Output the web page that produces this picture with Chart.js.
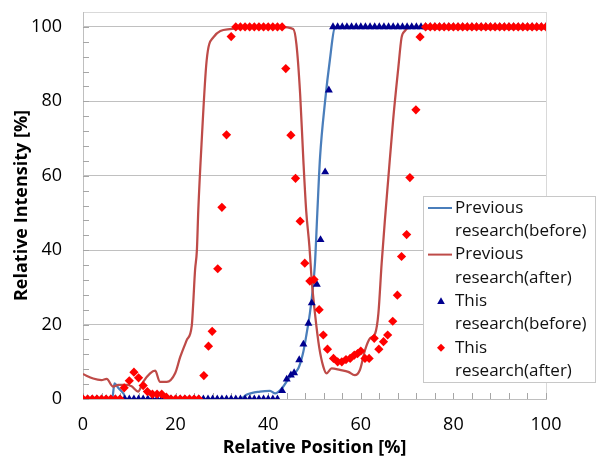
<!DOCTYPE html>
<html>
<head>
<meta charset="utf-8">
<script src="https://cdn.jsdelivr.net/npm/chart.js@4.4.1/dist/chart.umd.min.js"></script>
<style>
  html, body { margin: 0; padding: 0; background: #fff; }
  canvas { display: block; }
</style>
</head>
<body>
<canvas id="chart" width="597" height="457"></canvas>
<script>
// Previous research (before) - smooth blue line
const prevBeforeX = [0, 6.3, 6.8, 7.6, 8.7, 9.5, 34, 35.4, 38.2, 40.4, 41.5, 42.9, 44.7, 46.5, 47.5, 48.3, 49, 49.6, 50.1, 50.6, 51.2, 52.3, 53.3, 54.4, 55.5, 100];
const prevBeforeY = [0, 0, 4.2, 3.0, 1.5, 0, 0, 1.2, 2, 2.2, 1.5, 2.8, 6, 8.2, 12.2, 17.6, 23, 29.2, 36.4, 49.8, 65, 80.2, 90.9, 99.8, 100, 100];

// Previous research (after) - smooth red line
const prevAfterX = [0, 2.2, 4, 5.1, 6.5, 7.6, 9.4, 10.5, 11.9, 13, 14.5, 15.6, 16.6, 18.1, 19.9, 21, 22.4, 23.5, 23.8, 24.2, 24.6, 24.9, 25.6, 26.7, 28.1, 31.7, 42.5, 45.4, 46.1, 46.9, 47.6, 48.2, 48.9, 49.4, 50.1, 51, 51.9, 52.6, 53.7, 55.5, 57.3, 58.7, 59.8, 60.9, 62, 63.1, 63.8, 64.5, 65.2, 65.9, 67, 68.1, 68.8, 69.5, 71, 100];
const prevAfterY = [6.7, 5.5, 5.1, 5.4, 3.3, 3.8, 3.8, 3.4, 2, 4.6, 6.9, 7.6, 4.6, 4.6, 6.9, 11.3, 15.8, 19.8, 25.6, 34.6, 40, 50.7, 68.5, 90.9, 97.1, 99.4, 100, 99.4, 95.3, 81.9, 64, 50.7, 41, 31.9, 23, 14, 8.7, 6.9, 8.2, 7.8, 7.3, 6.4, 7.8, 13.1, 16.3, 17.6, 23, 36.4, 48, 58.7, 75.2, 89, 97.1, 98.9, 100, 100];

// This research (before) - blue triangles
const thisBeforeX = [0, 1, 2, 3, 4, 5, 6, 7, 8, 9, 10, 11, 12, 13, 14, 15, 16, 17, 18, 19, 20, 21, 22, 23, 24, 25, 26, 27, 28, 29, 30, 31, 32, 33, 34, 35, 36, 37, 38, 39, 40, 41, 42,
  43, 44, 44.9, 45.6, 46.7, 47.6, 48.7, 49.4, 50.5, 51.3, 52.3, 53.1,
  54, 55, 56, 57, 58, 59, 60, 61, 62, 63, 64, 65, 66, 67, 68, 69, 70, 71, 72, 73, 74, 75, 76, 77, 78, 79, 80, 81, 82, 83, 84, 85, 86, 87, 88, 89, 90, 91, 92, 93, 94, 95, 96, 97, 98, 99, 100];
const thisBeforeY = [0, 0, 0, 0, 0, 0, 0, 0, 0, 0, 0, 0, 0, 0, 0, 0, 0, 0, 0, 0, 0, 0, 0, 0, 0, 0, 0, 0, 0, 0, 0, 0, 0, 0, 0, 0, 0, 0, 0, 0, 0, 0, 0,
  2.2, 5.3, 6.4, 7, 10.5, 14.7, 20.3, 25.8, 30.8, 42.8, 61, 83,
  100, 100, 100, 100, 100, 100, 100, 100, 100, 100, 100, 100, 100, 100, 100, 100, 100, 100, 100, 100, 100, 100, 100, 100, 100, 100, 100, 100, 100, 100, 100, 100, 100, 100, 100, 100, 100, 100, 100, 100, 100, 100, 100, 100, 100, 100, 100];

// This research (after) - red diamonds
const thisAfterX = [0, 1, 2, 3, 4, 5, 6, 7, 8, 8.9, 10, 11, 12, 13, 13.9, 15, 16, 17, 18, 19, 20, 21, 22, 23, 24, 25,
  26.1, 27.1, 27.9, 29.1, 30, 31, 32, 33, 34, 35, 36, 37, 38, 39, 40, 41, 42, 43,
  43.8, 44.9, 45.9, 46.9, 47.9, 49, 49.9, 51, 51.9, 52.8, 54.1, 55, 55.9, 56.8, 57.7, 58.6, 59.3, 60, 60.9, 61.8, 62.9, 63.9, 64.9, 65.8, 66.9, 67.9, 68.8, 69.9, 70.6, 71.9, 72.8,
  74, 75, 76, 77, 78, 79, 80, 81, 82, 83, 84, 85, 86, 87, 88, 89, 90, 91, 92, 93, 94, 95, 96, 97, 98, 99, 100];
const thisAfterY = [0, 0, 0, 0, 0, 0, 0, 0, 0, 3, 4.9, 7.2, 5.7, 3.6, 2, 1.3, 1.3, 1.3, 0.5, 0, 0, 0, 0, 0, 0, 0,
  6.3, 14.2, 18.2, 35, 51.5, 71, 97.4, 100, 100, 100, 100, 100, 100, 100, 100, 100, 100, 100,
  88.8, 70.9, 59.3, 47.8, 36.5, 31.7, 32.1, 24, 17.2, 13.4, 10.9, 10, 10, 10.6, 10.9, 11.8, 12.2, 12.9, 10.9, 10.9, 16.3, 13.4, 15.4, 17.2, 20.9, 27.9, 38.3, 44.2, 59.5, 77.7, 97.3,
  100, 100, 100, 100, 100, 100, 100, 100, 100, 100, 100, 100, 100, 100, 100, 100, 100, 100, 100, 100, 100, 100, 100, 100, 100, 100, 100];

const seriesNames = [['Previous', 'research(before)'], ['Previous', 'research(after)'], ['This', 'research(before)'], ['This', 'research(after)']];
const xTitle = 'Relative Position [%]';
const yTitle = 'Relative Intensity [%]';

const toPoints = (xs, ys) => xs.map((x, i) => ({ x: x, y: ys[i] }));

const FONT = "'Open Sans', 'Noto Sans', sans-serif";
const BLUE_LINE = '#4A7EBB';
const RED_LINE = '#BE4B48';
const TRI_COLOR = '#00008F';
const DIA_COLOR = '#FF0000';

// small inward tick marks (Excel style)
const tickMarks = {
    id: 'tickMarks',
    beforeDatasetsDraw(chart) {
        const { ctx, chartArea: a, scales: { x, y } } = chart;
        ctx.save();
        ctx.strokeStyle = '#a6a6a6';
        ctx.lineWidth = 1;
        ctx.beginPath();
        x.ticks.forEach((t) => {
            const px = Math.round(x.getPixelForValue(t.value)) + 0.5;
            ctx.moveTo(px, a.bottom);
            ctx.lineTo(px, a.bottom - 6);
        });
        y.ticks.forEach((t) => {
            if (t.value > 100) return;
            const py = Math.round(y.getPixelForValue(t.value)) + 0.5;
            ctx.moveTo(a.left, py);
            ctx.lineTo(a.left + 6, py);
        });
        ctx.stroke();
        ctx.restore();
    }
};

function drawMarker(ctx, style, cx, cy, r, color) {
    ctx.fillStyle = color;
    ctx.beginPath();
    if (style === 'triangle') {
        ctx.moveTo(cx, cy - r);
        ctx.lineTo(cx + r * 0.95, cy + r * 0.7);
        ctx.lineTo(cx - r * 0.95, cy + r * 0.7);
    } else {
        ctx.moveTo(cx, cy - r);
        ctx.lineTo(cx + r, cy);
        ctx.lineTo(cx, cy + r);
        ctx.lineTo(cx - r, cy);
    }
    ctx.closePath();
    ctx.fill();
}

// legend box inside the plot, lower right
const boxLegend = {
    id: 'boxLegend',
    afterDraw(chart) {
        const ctx = chart.ctx;
        const left = 423.5, top = 196.5, w = 172, h = 186;
        ctx.save();
        ctx.fillStyle = '#fff';
        ctx.strokeStyle = '#c8c8c8';
        ctx.lineWidth = 1;
        ctx.fillRect(left, top, w, h);
        ctx.strokeRect(left, top, w, h);
        ctx.font = '17px ' + FONT;
        ctx.textBaseline = 'middle';
        ctx.textAlign = 'left';
        const rowH = 23.3;
        seriesNames.forEach((lines, i) => {
            const y0 = 208 + i * rowH * 2;
            const ds = chart.data.datasets[i];
            if (ds.showLine) {
                ctx.strokeStyle = ds.borderColor;
                ctx.lineWidth = 2;
                ctx.beginPath();
                ctx.moveTo(428, y0);
                ctx.lineTo(452, y0);
                ctx.stroke();
            } else {
                drawMarker(ctx, ds.pointStyle, 441, y0, 4, ds.backgroundColor);
            }
            ctx.fillStyle = '#111';
            lines.forEach((t, k) => ctx.fillText(t, 455, y0 + k * rowH));
        });
        ctx.restore();
    }
};

new Chart(document.getElementById('chart'), {
    type: 'scatter',
    data: {
        datasets: [
            {
                label: seriesNames[0].join(' '),
                data: toPoints(prevBeforeX, prevBeforeY),
                showLine: true,
                borderColor: BLUE_LINE,
                backgroundColor: BLUE_LINE,
                borderWidth: 2.25,
                pointRadius: 0,
                cubicInterpolationMode: 'monotone',
                order: 4,
            },
            {
                label: seriesNames[1].join(' '),
                data: toPoints(prevAfterX, prevAfterY),
                showLine: true,
                borderColor: RED_LINE,
                backgroundColor: RED_LINE,
                borderWidth: 2.25,
                pointRadius: 0,
                cubicInterpolationMode: 'monotone',
                order: 3,
            },
            {
                label: seriesNames[2].join(' '),
                data: toPoints(thisBeforeX, thisBeforeY),
                showLine: false,
                pointStyle: 'triangle',
                pointRadius: 4.6,
                backgroundColor: TRI_COLOR,
                borderColor: TRI_COLOR,
                borderWidth: 0,
                order: 2,
            },
            {
                label: seriesNames[3].join(' '),
                data: toPoints(thisAfterX, thisAfterY),
                showLine: false,
                pointStyle: 'rectRot',
                pointRadius: 4.6,
                backgroundColor: DIA_COLOR,
                borderColor: DIA_COLOR,
                borderWidth: 0,
                order: 1,
            },
        ]
    },
    options: {
        responsive: false,
        animation: false,
        devicePixelRatio: 1,
        layout: {
            padding: { top: 12, right: 51, left: 0, bottom: 0 },
        },
        plugins: {
            legend: { display: false },
            tooltip: { enabled: false },
        },
        scales: {
            x: {
                type: 'linear',
                min: 0,
                max: 100,
                afterFit: (s) => { s.height = 58; s.paddingLeft = 0; s.paddingRight = 0; },
                border: { color: '#bfbfbf', width: 1 },
                grid: {
                    drawTicks: false,
                    color: (c) => (c.tick && c.tick.value === 100 ? '#d9d9d9' : 'rgba(0,0,0,0)'),
                },
                ticks: {
                    stepSize: 4,
                    autoSkip: false,
                    maxRotation: 0,
                    padding: 15,
                    color: '#000',
                    font: { size: 18, family: FONT },
                    callback: (v) => (v % 20 === 0 ? String(v) : ''),
                },
                title: {
                    display: true,
                    text: xTitle,
                    color: '#000',
                    font: { size: 18, weight: 'bold', family: FONT, lineHeight: 1 },
                    padding: { top: 0, bottom: 0 },
                },
            },
            y: {
                type: 'linear',
                min: 0,
                max: 104,
                afterFit: (s) => { s.width = 83; s.paddingTop = 0; s.paddingBottom = 0; },
                border: { color: '#bfbfbf', width: 1 },
                grid: {
                    drawTicks: false,
                    color: (c) => {
                        if (!c.tick) return 'rgba(0,0,0,0)';
                        if (c.tick.value === 104) return '#d9d9d9';
                        return c.tick.value % 20 === 0 ? '#c0c0c0' : 'rgba(0,0,0,0)';
                    },
                },
                ticks: {
                    stepSize: 4,
                    autoSkip: false,
                    padding: 21,
                    color: '#000',
                    font: { size: 18, family: FONT },
                    callback: (v) => (v % 20 === 0 && v <= 100 ? String(v) : ''),
                },
                title: {
                    display: true,
                    text: yTitle,
                    color: '#000',
                    font: { size: 18, weight: 'bold', family: FONT, lineHeight: 1.2 },
                    padding: { top: 11, bottom: 0 },
                },
            },
        },
    },
    plugins: [tickMarks, boxLegend],
});
</script>
</body>
</html>
